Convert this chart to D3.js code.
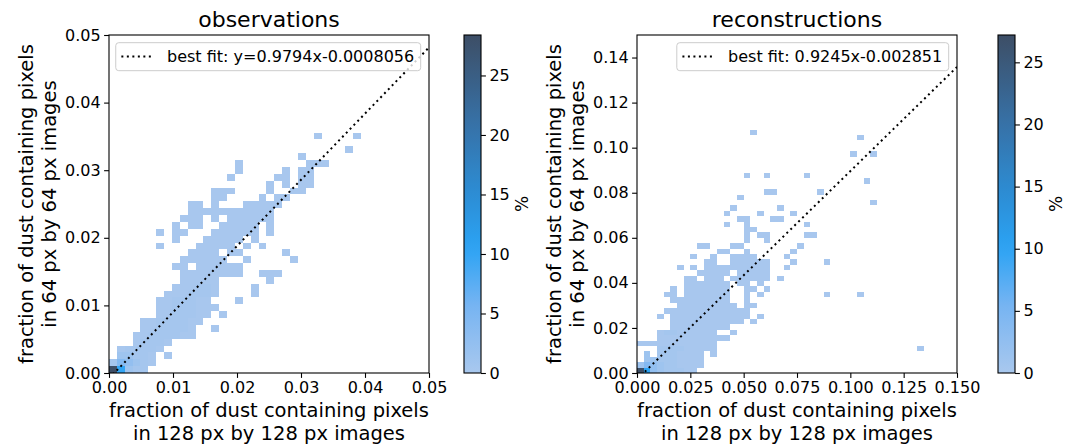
<!DOCTYPE html>
<html>
<head>
<meta charset="utf-8">
<script src="https://cdn.jsdelivr.net/npm/d3@7"></script>
<style>
  body { margin: 0; background: #fff; }
  svg { font-family: "DejaVu Sans", sans-serif; }
</style>
</head>
<body>
<svg width="1073" height="446"></svg>
<script>
// ---- data ----
const obsXTicks = [0, 0.01, 0.02, 0.03, 0.04, 0.05];
const obsYTicks = [0, 0.01, 0.02, 0.03, 0.04, 0.05];
const recXTicks = [0, 0.025, 0.05, 0.075, 0.1, 0.125, 0.15];
const recYTicks = [0, 0.02, 0.04, 0.06, 0.08, 0.1, 0.12, 0.14];
const cbarTicks = [0, 5, 10, 15, 20, 25];

const obsFit = [0.9794, -0.0008056];
const recFit = [0.9245, -0.002851];

// histogram bin widths (x, y) in data units
const obsBin = [0.00123, 0.001016];
const recBin = [0.003125, 0.0024];

// percent of images per bin: "." empty, digits are levels, "9" = peak bin
const levelPct = { "1": 0.15, "2": 0.5, "3": 1.2, "4": 2.5, "5": 4, "6": 6, "7": 10, "8": 15 };
const obsPeak = 28.4;
const recPeak = 27.2;

// rows from top bin down to the bottom bin (y = 0)
const obsRows = [
  "..........................1....1.",
  ".................................",
  "..............................1..",
  "........................1........",
  "................1........111.....",
  "................1.....1.11.......",
  "...............1.....11.11.......",
  "....................1.1.11.......",
  ".............111....1..11........",
  ".............11....1.11..........",
  "..........11.1...11111...........",
  "..........11111111111............",
  ".........111.1.111111............",
  "........1.11..11111.1............",
  "......1.11...111111.1............",
  "........1...11111.1..............",
  "......1....11111.1.1.............",
  "..........1111.11.....1..........",
  ".........111111..1.....1.........",
  "........11.111111................",
  ".........11111111..111...........",
  ".........11111......1............",
  "........111221....1..............",
  ".......1112221....1..............",
  "......1122211...1................",
  "......11222111...................",
  "......1122211.1..................",
  "....11222211.....................",
  "....1122221..1...................",
  "...11222211......................",
  "...12221.........................",
  ".122221..........................",
  ".33221.1.........................",
  "254321...........................",
  "97322............................"
];

const recRows = [
  ".................1.........................",
  ".................................1.........",
  "...........................................",
  "...........................................",
  "................................1..1.......",
  "...........................................",
  "...........................................",
  "...........................................",
  "................1..1.....1.................",
  "..................................1........",
  "...........................................",
  "...................11......1...............",
  "...............1...........................",
  "...................................1.......",
  "..............1......1.....................",
  ".............1....1....1...................",
  "...............11...11.....................",
  ".............1..1........1.................",
  "................11.........................",
  "................1.11.....11................",
  "................1..1.......................",
  ".........11...11........1..................",
  "............11..1......1...................",
  "........1..1..1111....1....................",
  "..........11..111111...1....1..............",
  "......1.1.1111111111..1....................",
  ".........11111.11111.......................",
  ".......11.111.111111.1.....................",
  ".......1111111.11.1........................",
  ".....1.1111111..11.1.......................",
  "....11.1111111..1.1.........1....1.........",
  ".....111111111..1..........................",
  "......111111111.11.........................",
  "....1111111111111..........................",
  "...1.111111111111.1........................",
  ".....11111111111.1.........................",
  ".....111111111.............................",
  "...122111111..1............................",
  "...11111111111.............................",
  "111111111111...............................",
  "...222211111..............................1",
  ".3.2221111.1...............................",
  ".332221111.................................",
  "3543221111.................................",
  "974322211.................................."
];

// ---- layout ----
const svg = d3.select("svg");
const plotTop = 35, plotBottom = 373, plotW = 320;
const cmapStops = [0, 0.2, 0.37, 0.55, 0.75, 1];
const cmapColors = ["#a9c8ee", "#76b4f2", "#2ba3f4", "#2d8ad0", "#3770a4", "#3d4e66"];

const defs = svg.append("defs");

function panel(cfg) {
  const x = d3.scaleLinear().domain(cfg.xDomain).range([cfg.left, cfg.left + plotW]);
  const y = d3.scaleLinear().domain(cfg.yDomain).range([plotBottom, plotTop]);
  const color = d3.scaleLinear()
    .domain(cmapStops.map(s => s * cfg.peak))
    .range(cmapColors)
    .clamp(true);

  const clipId = "clip-" + cfg.id;
  defs.append("clipPath").attr("id", clipId)
    .append("rect")
    .attr("x", cfg.left).attr("y", plotTop)
    .attr("width", plotW).attr("height", plotBottom - plotTop);

  const g = svg.append("g");

  // cells
  const cells = [];
  cfg.rows.forEach((row, k) => {
    const j = cfg.rows.length - 1 - k;
    [...row].forEach((ch, i) => {
      if (ch === ".") return;
      const pct = ch === "9" ? cfg.peak : levelPct[ch];
      cells.push({ x0: i * cfg.bin[0], x1: (i + 1) * cfg.bin[0], y0: j * cfg.bin[1], y1: (j + 1) * cfg.bin[1], pct });
    });
  });

  g.append("g").attr("clip-path", `url(#${clipId})`)
    .selectAll("rect")
    .data(cells)
    .enter()
    .append("rect")
    .attr("x", d => x(d.x0))
    .attr("y", d => y(d.y1))
    .attr("width", d => x(d.x1) - x(d.x0))
    .attr("height", d => y(d.y0) - y(d.y1))
    .attr("fill", d => color(d.pct))
    .attr("shape-rendering", "crispEdges");

  // best fit line
  const fitLine = d3.line().x(d => x(d)).y(d => y(cfg.fit[0] * d + cfg.fit[1]));
  g.append("path")
    .attr("clip-path", `url(#${clipId})`)
    .attr("d", fitLine(cfg.xDomain))
    .attr("fill", "none")
    .attr("stroke", "#000")
    .attr("stroke-width", 2)
    .attr("stroke-dasharray", "2,3.5");

  // axes
  const xAxis = g.append("g")
    .attr("transform", `translate(0,${plotBottom})`)
    .call(d3.axisBottom(x).tickValues(cfg.xTicks).tickFormat(d3.format(cfg.xFmt)).tickSize(4.9).tickPadding(3.5));
  const yAxis = g.append("g")
    .attr("transform", `translate(${cfg.left},0)`)
    .call(d3.axisLeft(y).tickValues(cfg.yTicks).tickFormat(d3.format(cfg.yFmt)).tickSize(4.9).tickPadding(3.5));
  [xAxis, yAxis].forEach(a => {
    a.select(".domain").remove();
    a.selectAll("line").attr("stroke", "#000").attr("stroke-width", 1.1);
    a.selectAll("text").attr("font-size", 16).attr("fill", "#000").attr("font-family", "DejaVu Sans");
  });

  // spines
  g.append("rect")
    .attr("x", cfg.left).attr("y", plotTop)
    .attr("width", plotW).attr("height", plotBottom - plotTop)
    .attr("fill", "none").attr("stroke", "#000").attr("stroke-width", 1.1);

  // title
  g.append("text")
    .attr("x", cfg.left + plotW / 2).attr("y", 27)
    .attr("text-anchor", "middle").attr("font-size", 22)
    .text(cfg.title);

  // x label
  const xl = g.append("text")
    .attr("text-anchor", "middle").attr("font-size", 19.5)
    .attr("transform", `translate(${cfg.left + plotW / 2},416.5)`);
  xl.append("tspan").attr("x", 0).attr("y", 0).text("fraction of dust containing pixels");
  xl.append("tspan").attr("x", 0).attr("dy", 23).text("in 128 px by 128 px images");

  // y label
  const yl = g.append("text")
    .attr("text-anchor", "middle").attr("font-size", 19.5)
    .attr("transform", `translate(${cfg.left - 76},${(plotTop + plotBottom) / 2}) rotate(-90)`);
  yl.append("tspan").attr("x", 0).attr("y", 0).text("fraction of dust containing pixels");
  yl.append("tspan").attr("x", 0).attr("dy", 23).text("in 64 px by 64 px images");

  // legend (upper right)
  const leg = g.append("g");
  const legText = leg.append("text")
    .attr("font-size", 16)
    .attr("y", 62.3)
    .text(cfg.legend);
  const tw = legText.node().getComputedTextLength();
  const boxW = 5.6 + 31.7 + 14 + tw + 6.5;
  const boxX = cfg.left + plotW - 8.3 - boxW;
  leg.insert("rect", "text")
    .attr("x", boxX).attr("y", 42.7)
    .attr("width", boxW).attr("height", 28)
    .attr("rx", 3)
    .attr("fill", "#fff").attr("fill-opacity", 0.8)
    .attr("stroke", "#cccccc").attr("stroke-width", 1);
  leg.insert("line", "text")
    .attr("x1", boxX + 5.6).attr("x2", boxX + 5.6 + 31.7)
    .attr("y1", 56.5).attr("y2", 56.5)
    .attr("stroke", "#000").attr("stroke-width", 2)
    .attr("stroke-dasharray", "2,3.5");
  legText.attr("x", boxX + 5.6 + 31.7 + 14);

  // colorbar
  const gradId = "grad-" + cfg.id;
  const grad = defs.append("linearGradient").attr("id", gradId)
    .attr("x1", 0).attr("y1", 1).attr("x2", 0).attr("y2", 0);
  d3.range(0, 1.0001, 0.05).forEach(t => {
    grad.append("stop").attr("offset", t).attr("stop-color", color(t * cfg.peak));
  });
  const c = d3.scaleLinear().domain([0, cfg.peak]).range([plotBottom, plotTop]);
  const cbW = 17;
  g.append("rect")
    .attr("x", cfg.cbLeft).attr("y", plotTop)
    .attr("width", cbW).attr("height", plotBottom - plotTop)
    .attr("fill", `url(#${gradId})`)
    .attr("stroke", "#000").attr("stroke-width", 1.1);
  const cAxis = g.append("g")
    .attr("transform", `translate(${cfg.cbLeft + cbW},0)`)
    .call(d3.axisRight(c).tickValues(cbarTicks).tickFormat(d3.format("d")).tickSize(4.9).tickPadding(3.5));
  cAxis.select(".domain").remove();
  cAxis.selectAll("line").attr("stroke", "#000").attr("stroke-width", 1.1);
  cAxis.selectAll("text").attr("font-size", 16).attr("fill", "#000").attr("font-family", "DejaVu Sans");
  g.append("text")
    .attr("text-anchor", "middle").attr("font-size", 17)
    .attr("transform", `translate(${cfg.cbLeft + 64},${(plotTop + plotBottom) / 2}) rotate(-90)`)
    .text("%");
}

panel({
  id: "obs", left: 109, cbLeft: 464,
  xDomain: [0, 0.05], yDomain: [0, 0.05],
  xTicks: obsXTicks, yTicks: obsYTicks, xFmt: ".2f", yFmt: ".2f",
  rows: obsRows, bin: obsBin, peak: obsPeak, fit: obsFit,
  title: "observations",
  legend: `best fit: y=${obsFit[0]}x-${Math.abs(obsFit[1])}`
});

panel({
  id: "rec", left: 637, cbLeft: 998,
  xDomain: [0, 0.15], yDomain: [0, 0.15],
  xTicks: recXTicks, yTicks: recYTicks, xFmt: ".3f", yFmt: ".2f",
  rows: recRows, bin: recBin, peak: recPeak, fit: recFit,
  title: "reconstructions",
  legend: `best fit: ${recFit[0]}x-${Math.abs(recFit[1])}`
});
</script>
</body>
</html>
